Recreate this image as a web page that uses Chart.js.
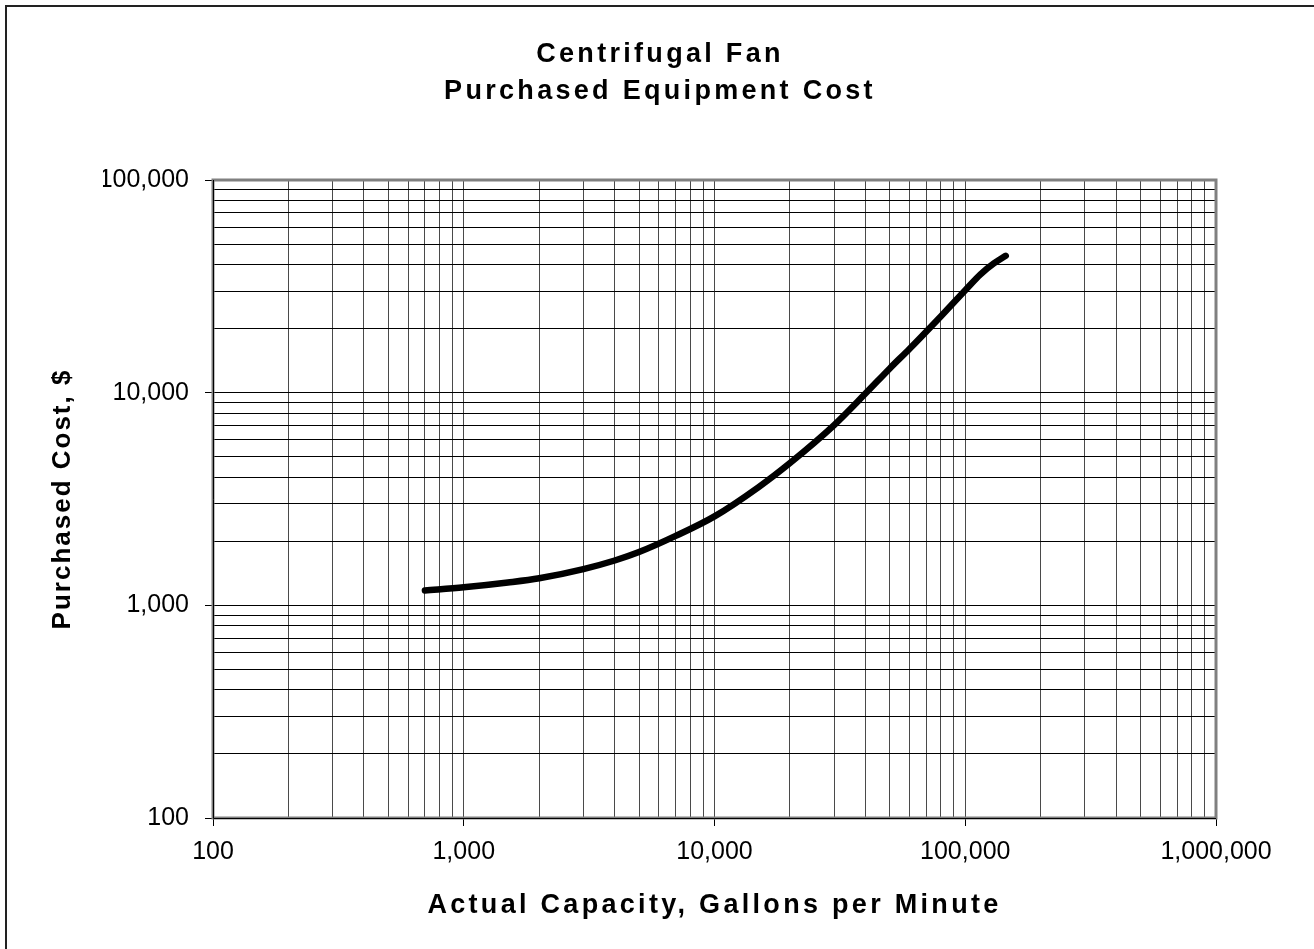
<!DOCTYPE html>
<html>
<head>
<meta charset="utf-8">
<title>Centrifugal Fan - Purchased Equipment Cost</title>
<script src="https://cdn.jsdelivr.net/npm/chart.js@4.4.1/dist/chart.umd.min.js"></script>
<style>
    html, body { margin: 0; padding: 0; background: #fff; overflow: hidden; }
    #wrap { position: relative; width: 1314px; height: 949px; }
    #frame {
        position: absolute; left: 5px; top: 5px; right: -10px; bottom: -10px;
        border-left: 2px solid #222; border-top: 2px solid #222;
        pointer-events: none;
    }
</style>
</head>
<body>
<div id="wrap">
    <canvas id="fan-chart"></canvas>
    <div id="frame"></div>
</div>
<script>
// Chart data
const capacityGpm = [700, 1000, 1500, 2000, 3000, 4000, 5000, 7000, 10000, 15000, 20000, 30000, 40000, 50000, 60000, 80000, 100000, 115000, 130000, 145000];
const costDollars = [1175, 1215, 1280, 1340, 1480, 1625, 1780, 2120, 2620, 3600, 4670, 7040, 9900, 13000, 16100, 22900, 30300, 36000, 40500, 44000];

// Axis decades and the minor multipliers used for the grid
const xDecades = [100, 1000, 10000, 100000, 1000000];
const yDecades = [100, 1000, 10000, 100000];
const minorSteps = [2, 3, 4, 5, 6, 7, 8, 9];

const titleLines = ['Centrifugal Fan', 'Purchased Equipment Cost'];
const xTitle = 'Actual Capacity, Gallons per Minute';
const yTitle = 'Purchased Cost, $';

const FONT = "'Liberation Sans', Arial, Helvetica, sans-serif";

function gridTicks(decades) {
    const ticks = [];
    decades.forEach((d, i) => {
        ticks.push({ value: d, major: true });
        if (i < decades.length - 1) {
            minorSteps.forEach(m => ticks.push({ value: d * m, major: false }));
        }
    });
    return ticks;
}

function fmt(v) {
    return v.toLocaleString('en-US');
}

// Excel-ish frame: grey top/right edges, black axes, spaced bold titles
const chartDecor = {
    id: 'chartDecor',
    beforeDatasetsDraw(chart) {
        const { ctx, chartArea: a } = chart;
        ctx.save();
        ctx.strokeStyle = '#808080';
        ctx.lineWidth = 3;
        ctx.strokeRect(a.left, a.top, a.right - a.left, a.bottom - a.top);
        ctx.strokeStyle = '#000';
        ctx.lineWidth = 1;
        ctx.beginPath();
        ctx.moveTo(a.left + 0.5, a.top);
        ctx.lineTo(a.left + 0.5, a.bottom + 0.5);
        ctx.lineTo(a.right, a.bottom + 0.5);
        ctx.stroke();
        ctx.restore();
    },
    afterDraw(chart) {
        const { ctx, chartArea: a } = chart;
        ctx.save();
        ctx.fillStyle = '#000';
        ctx.textAlign = 'center';
        ctx.textBaseline = 'alphabetic';

        ctx.font = 'bold 27px ' + FONT;
        ctx.letterSpacing = '3.3px';
        ctx.fillText(titleLines[0], 660, 62);
        ctx.fillText(titleLines[1], 660, 99);

        ctx.fillText(xTitle, (a.left + a.right) / 2, 913);

        ctx.font = 'bold 26px ' + FONT;
        ctx.letterSpacing = '2px';
        ctx.translate(70, (a.top + a.bottom) / 2);
        ctx.rotate(-Math.PI / 2);
        ctx.fillText(yTitle, 0, 0);
        ctx.restore();
    }
};

const ctx = document.getElementById('fan-chart');

new Chart(ctx, {
    type: 'line',
    data: {
        datasets: [{
            label: 'Purchased Cost',
            data: capacityGpm.map((x, i) => ({ x: x, y: costDollars[i] })),
            borderColor: '#000',
            borderWidth: 6.5,
            borderCapStyle: 'round',
            borderJoinStyle: 'round',
            cubicInterpolationMode: 'monotone',
            pointRadius: 0,
            fill: false
        }]
    },
    options: {
        responsive: true,
        maintainAspectRatio: false,
        animation: false,
        events: [],
        layout: {
            padding: { left: 103, top: 180, right: 98, bottom: 71 }
        },
        plugins: {
            legend: { display: false },
            title: { display: false },
            tooltip: { enabled: false }
        },
        scales: {
            x: {
                type: 'logarithmic',
                min: 100,
                max: 1000000,
                afterBuildTicks: (scale) => { scale.ticks = gridTicks(xDecades); },
                afterFit: (scale) => { scale.height = 60; },
                border: { display: false },
                grid: {
                    color: '#4a4a4a',
                    lineWidth: 1,
                    drawTicks: true,
                    tickLength: 8,
                    tickColor: (c) => (c.tick && c.tick.major ? '#000' : 'rgba(0,0,0,0)')
                },
                ticks: {
                    autoSkip: false,
                    maxRotation: 0,
                    padding: 11,
                    color: '#000',
                    font: { family: FONT, size: 25 },
                    callback: function (value, index, ticks) {
                        return ticks[index].major ? fmt(value) : '';
                    }
                }
            },
            y: {
                type: 'logarithmic',
                min: 100,
                max: 100000,
                afterBuildTicks: (scale) => { scale.ticks = gridTicks(yDecades); },
                afterFit: (scale) => { scale.width = 110; },
                border: { display: false },
                grid: {
                    color: '#000',
                    lineWidth: 1,
                    drawTicks: true,
                    tickLength: 8,
                    tickColor: (c) => (c.tick && c.tick.major ? '#000' : 'rgba(0,0,0,0)')
                },
                ticks: {
                    autoSkip: false,
                    padding: 16,
                    color: '#000',
                    font: { family: FONT, size: 25 },
                    callback: function (value, index, ticks) {
                        return ticks[index].major ? fmt(value) : '';
                    }
                }
            }
        }
    },
    plugins: [chartDecor]
});
</script>
</body>
</html>
